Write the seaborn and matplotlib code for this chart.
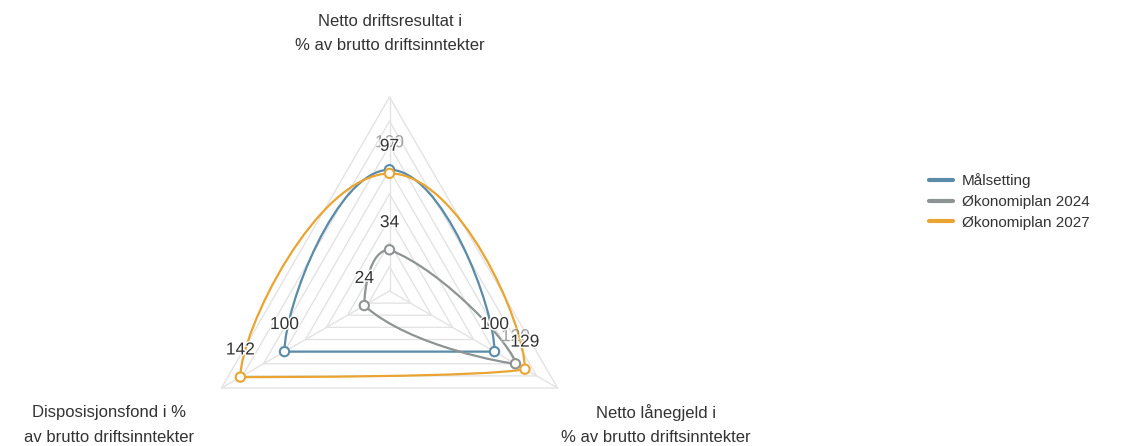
import numpy as np
import pandas as pd
import matplotlib
matplotlib.use('Agg')
import matplotlib.pyplot as plt
import matplotlib.patheffects as pe
from matplotlib.path import Path
from matplotlib.patches import PathPatch
from matplotlib.lines import Line2D
import seaborn as sns

# Data (axis order: top, bottom right, bottom left - clockwise)
axis_titles = [
    'Netto driftsresultat i\n% av brutto driftsinntekter',
    'Netto lånegjeld i\n% av brutto driftsinntekter',
    'Disposisjonsfond i %\nav brutto driftsinntekter',
]
series_names = ['Målsetting', 'Økonomiplan 2024', 'Økonomiplan 2027']
malsetting = [100, 100, 100]
plan_2024 = [34, 120, 24]
plan_2027 = [97, 129, 142]
grid_levels = [20, 40, 60, 80, 100, 120, 140, 160]

series_values = [malsetting, plan_2024, plan_2027]
colors = {'Målsetting': '#5a8ba8', 'Økonomiplan 2024': '#8d9493', 'Økonomiplan 2027': '#e9a431'}
# labels hidden behind others (drawn faded)
faded_labels = {('Målsetting', 0), ('Økonomiplan 2024', 1)}

sns.set_theme(style='white')
plt.rcParams['font.family'] = ['Liberation Sans', 'DejaVu Sans']

W, H = 1139, 446
fig = plt.figure(figsize=(W / 100, H / 100), dpi=100)
ax = fig.add_axes([0, 0, 1, 1])

# layout: centre of radar in pixels (y up) and pixels per unit
cx, cy = 389.5, 155.0
k = 194.0 / grid_levels[-1]
ax.set_xlim(-cx / k, (W - cx) / k)
ax.set_ylim(-cy / k, (H - cy) / k)
ax.axis('off')

angles = np.deg2rad([0, 120, 240])


def to_xy(vals):
    vals = np.asarray(vals, dtype=float)
    return np.column_stack([vals * np.sin(angles), vals * np.cos(angles)])


def smooth_loop(pts, s=0.5):
    # closed bezier through the points, control points kept inside bbox
    n = len(pts)
    lo, hi = pts.min(axis=0), pts.max(axis=0)
    cps = []
    for i in range(n):
        p, prv, nxt = pts[i], pts[i - 1], pts[(i + 1) % n]
        v = (nxt - prv) * s
        d0 = np.linalg.norm(p - prv)
        d1 = np.linalg.norm(p - nxt)
        tot = d0 + d1
        c0 = np.clip(p - v * d0 / tot, lo, hi)
        c1 = np.clip(p + v * d1 / tot, lo, hi)
        cps.append((c0, c1))
    verts = [pts[0]]
    codes = [Path.MOVETO]
    for i in range(n):
        j = (i + 1) % n
        verts += [cps[i][1], cps[j][0], pts[j]]
        codes += [Path.CURVE4] * 3
    return Path(verts, codes)


# grid
grid_color = '#e3e3e3'
for lvl in grid_levels:
    g = to_xy([lvl] * 3)
    g = np.vstack([g, g[:1]])
    ax.plot(g[:, 0], g[:, 1], color=grid_color, lw=1.0, zorder=1)
outer = to_xy([grid_levels[-1]] * 3)
for x, y in outer:
    ax.plot([0, x], [0, y], color=grid_color, lw=1.0, zorder=1)

# series lines
rows = []
for name, vals in zip(series_names, series_values):
    pts = to_xy(vals)
    ax.add_patch(PathPatch(smooth_loop(pts), fill=False, edgecolor=colors[name],
                           lw=1.6, zorder=3, capstyle='round', joinstyle='round'))
    for i, (x, y) in enumerate(pts):
        rows.append({'x': x, 'y': y, 'serie': name, 'value': vals[i], 'idx': i})
df = pd.DataFrame(rows)

# hollow markers
sns.scatterplot(data=df, x='x', y='y', hue='serie', palette=colors, s=45,
                legend=False, ax=ax, zorder=5)
coll = ax.collections[-1]
fc = coll.get_facecolors()
coll.set_edgecolors(fc)
coll.set_facecolors('white')
coll.set_linewidths(1.5)

# data labels
for _, r in df.iterrows():
    faded = (r['serie'], r['idx']) in faded_labels
    ax.annotate(str(r['value']), xy=(r['x'], r['y']), xytext=(0, 19.5),
                textcoords='offset points', ha='center', va='center',
                fontsize=12.5, color='#333333', alpha=0.3 if faded else 1.0,
                zorder=6 if not faded else 4,
                path_effects=[pe.withStroke(linewidth=2, foreground='white')])

# axis titles (pixel offsets from centre)
title_pos = [(0, 258), (266, -134), (-280, -134)]
for txt, (dx, dy) in zip(axis_titles, title_pos):
    ax.text(dx / k, dy / k, txt, ha='center', va='center', multialignment='center',
            fontsize=12, color='#333333', linespacing=1.75)

# legend
handles = [Line2D([0], [0], color=colors[n], lw=3) for n in series_names]
fig.legend(handles, series_names, loc='upper left',
           bbox_to_anchor=(929 / W, 1 - 173 / H), frameon=False, fontsize=11,
           handlelength=1.55, handletextpad=0.6, labelspacing=0.45,
           borderpad=0, borderaxespad=0, labelcolor='#333333')

fig.savefig('out.png', dpi=100)
